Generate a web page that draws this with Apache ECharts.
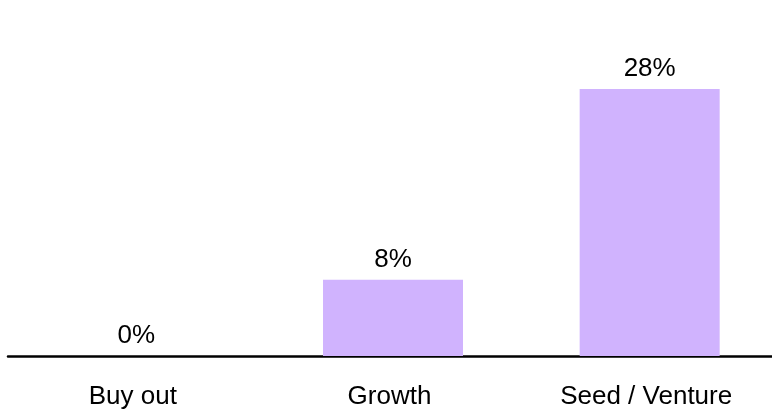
<!DOCTYPE html>
<html>
<head>
<meta charset="utf-8">
<script src="https://cdn.jsdelivr.net/npm/echarts@6/dist/echarts.min.js"></script>
<style>
  html, body { margin: 0; padding: 0; background: #ffffff; }
  #chart { width: 772px; height: 409px; }
</style>
</head>
<body>
<div id="chart"></div>
<script>
// Share of deals by investment stage (percent)
const categories = ['Buy out', 'Growth', 'Seed / Venture'];
const shareValues = [0, 8, 28];

const chart = echarts.init(document.getElementById('chart'), null, { renderer: 'canvas' });

const fontFamily = '"Liberation Sans", Arial, Helvetica, sans-serif';

chart.setOption({
  animation: false,
  backgroundColor: '#ffffff',
  // the plot runs slightly past the right edge of the canvas
  grid: { left: 8, right: -6, top: 89, bottom: 53, containLabel: false, outerBoundsMode: 'none' },
  xAxis: {
    type: 'category',
    data: categories,
    axisLine: { show: true, lineStyle: { color: '#000000', width: 2.5 } },
    axisTick: { show: false },
    axisLabel: {
      color: '#000000',
      fontSize: 26,
      fontFamily: fontFamily,
      margin: 28,
      padding: [0, 7, 0, 0]
    }
  },
  yAxis: {
    type: 'value',
    min: 0,
    max: 28,
    show: false,
    splitLine: { show: false }
  },
  series: [{
    type: 'bar',
    data: shareValues,
    barWidth: 140,
    itemStyle: { color: '#d0b3fe' },
    label: {
      show: true,
      position: 'top',
      distance: 7,
      color: '#000000',
      fontSize: 26,
      fontFamily: fontFamily,
      formatter: p => p.value + '%'
    }
  }]
});
</script>
</body>
</html>
